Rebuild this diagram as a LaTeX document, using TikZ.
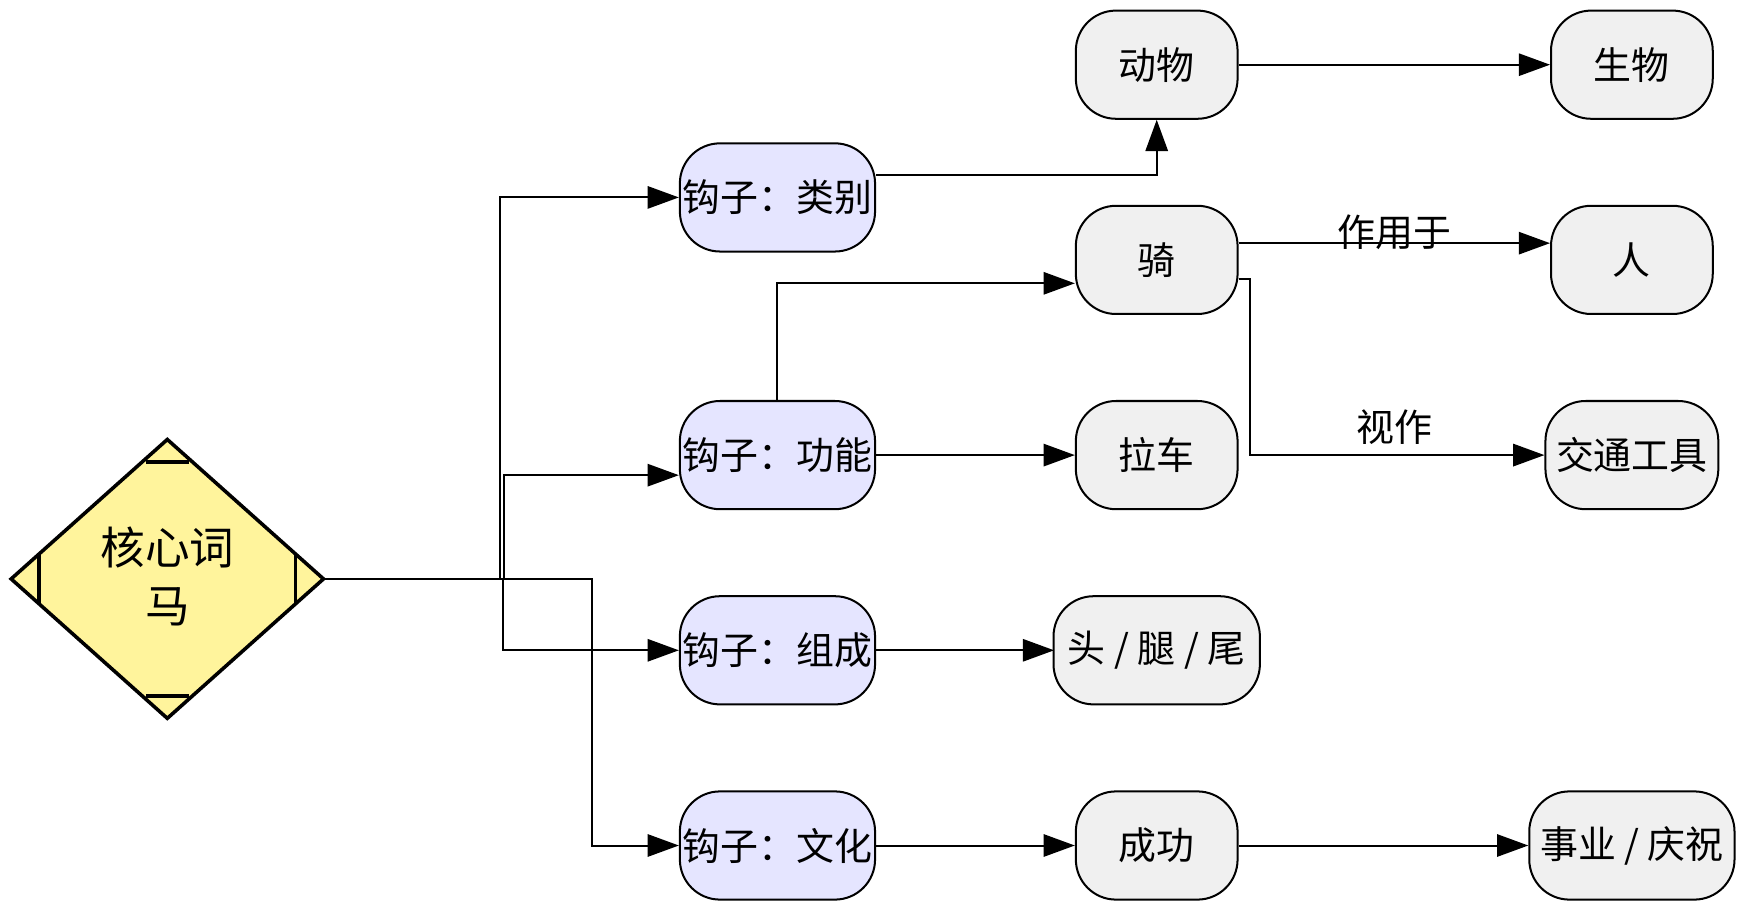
\documentclass[tikz,border=0pt]{standalone}
\usepackage{fontspec}
\setmainfont{Noto Sans CJK SC}
\usetikzlibrary{arrows.meta,calc}
\begin{document}
\begin{tikzpicture}[x=0.5pt,y=-0.5pt,
  box/.style={draw=black,line width=0.9pt,rounded corners=18pt,minimum width=72.5pt,minimum height=48.5pt,inner sep=0pt,font=\fontsize{17}{20}\selectfont},
  hook/.style={box,fill=blue!10!white,minimum width=87.5pt},
  gray/.style={box,fill=black!6},
  conn/.style={line width=0.9pt,-{Triangle[length=14pt,width=10pt]}},
  lab/.style={font=\fontsize{17}{20}\selectfont,inner sep=0pt}]
\useasboundingbox (0,0) rectangle (1568,818);
% diamond
\fill[yellow!35!white!95!orange] (150,394) -- (290,519) -- (150,644) -- (10,519) -- cycle;
\draw[line width=1.6pt] (150,394) -- (290,519) -- (150,644) -- (10,519) -- cycle;
\draw[line width=1.6pt] (131,414) -- (169,414) (131,624) -- (169,624) (35,497) -- (35,541) (265,497) -- (265,541);
\node[lab,align=center,font=\fontsize{20}{26}\selectfont] (core) at (150,517) {核心词\\马};
\coordinate (de) at (290,519);
% nodes
\node[hook] (h1) at (697,177) {钩子：类别};
\node[hook] (h2) at (697,408) {钩子：功能};
\node[hook] (h3) at (697,583) {钩子：组成};
\node[hook] (h4) at (697,758) {钩子：文化};
\node[gray] (dw) at (1037,58) {动物};
\node[gray] (qi) at (1037,233) {骑};
\node[gray] (lc) at (1037,408) {拉车};
\node[gray,minimum width=92.5pt] (tou) at (1037,583) {头 / 腿 / 尾};
\node[gray] (cg) at (1037,758) {成功};
\node[gray] (sw) at (1463,58) {生物};
\node[gray] (ren) at (1463,233) {人};
\node[gray,minimum width=77.5pt] (jt) at (1463,408) {交通工具};
\node[gray,minimum width=92pt] (sy) at (1463,758) {事业 / 庆祝};
% connectors
\draw[conn] (de) -- (448,519) |- (h1.west);
\draw[conn] (de) -- (452,519) -- (452,426) -- (h2.west |- 0,426);
\draw[conn] (de) -- (451,519) |- (h3.west);
\draw[conn] (de) -| (531,640) |- (h4.west);
\draw[conn] (h1.east |- 0,157) -| (dw.south);
\draw[conn] (dw) -- (sw);
\draw[conn] (h2.north) |- (qi.west |- 0,254);
\draw[conn] (qi.east |- 0,218) -- (ren.west |- 0,218);
\node[lab] (l1) at (1250,208) {作用于};
\draw[conn] (qi.east |- 0,250) -- (1121,250) |- (jt.west);
\node[lab] (l2) at (1250,383) {视作};
\draw[conn] (h2) -- (lc);
\draw[conn] (h3.east) -- (945,583);
\draw[conn] (h4) -- (cg);
\draw[conn] (cg) -- (sy);
\end{tikzpicture}
\end{document}
